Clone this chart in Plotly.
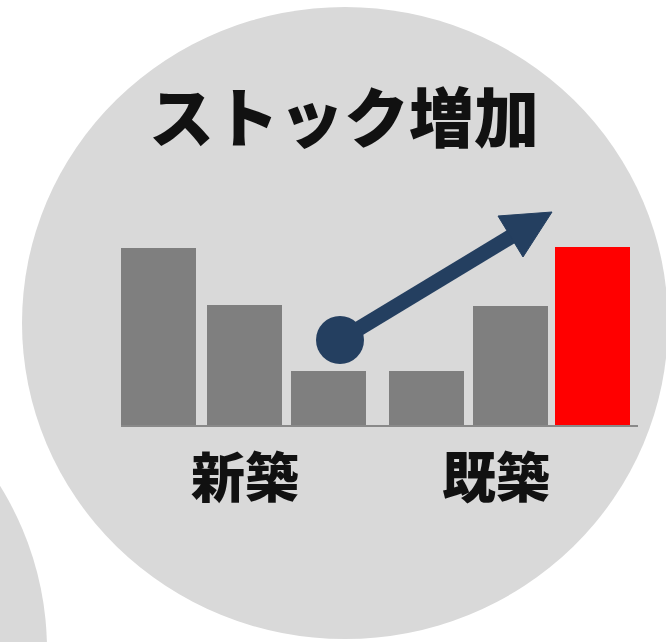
import plotly.graph_objects as go

# Stock growth illustration: new builds shrinking, existing stock rising
categories = ["新築1", "新築2", "新築3", "既築1", "既築2", "既築3"]
values = [178, 121, 55, 55, 120, 179]
group_labels = ["新築", "既築"]
title_text = "ストック増加"

# layout helpers (pixel-scaled axes so circles stay round)
W, H = 666, 642
BASE = 426  # pixel row of the bar baseline
bar_slots = [158.5, 244.5, 328.5, 426.5, 510.5, 592.5]
bar_colors = ["#7F7F7F"] * 5 + ["#FF0000"]
label_slots = [244.5, 496]


def py(p):
    """pixel row -> y data value"""
    return BASE - p


fig = go.Figure()
fig.add_trace(go.Bar(
    x=bar_slots, y=values, width=75,
    marker=dict(color=bar_colors, line=dict(width=0)),
    hovertext=categories, showlegend=False,
))

navy = "#243F60"
shapes = [
    # background discs
    dict(type="circle", xref="x", yref="y", x0=22, x1=668, y0=py(7), y1=py(639),
         fillcolor="#D9D9D9", line=dict(width=0), layer="below"),
    dict(type="circle", xref="x", yref="y", x0=-599, x1=47, y0=py(334), y1=py(966),
         fillcolor="#D9D9D9", line=dict(width=0), layer="below"),
    # baseline
    dict(type="line", xref="x", yref="y", x0=121, x1=638, y0=py(426), y1=py(426),
         line=dict(color="#898989", width=2), layer="above"),
    # arrow shaft
    dict(type="line", xref="x", yref="y", x0=340, y0=py(340), x1=512, y1=py(236),
         line=dict(color=navy, width=15), layer="above"),
    # arrow head
    dict(type="path", xref="x", yref="y",
         path=f"M 552 {py(212)} L 498 {py(216)} L 523 {py(257)} Z",
         fillcolor=navy, line=dict(color=navy, width=1), layer="above"),
    # start dot
    dict(type="circle", xref="x", yref="y", x0=316, x1=364, y0=py(316), y1=py(364),
         fillcolor=navy, line=dict(width=0), layer="above"),
]

font_family = "Noto Sans CJK JP"
annotations = [
    dict(x=344, y=py(114), xref="x", yref="y", text=title_text, showarrow=False,
         font=dict(family=font_family, size=65, color="#111111", weight=900),
         xanchor="center", yanchor="middle"),
]
for lbl, xs in zip(group_labels, label_slots):
    annotations.append(dict(
        x=xs, y=py(474), xref="x", yref="y", text=lbl, showarrow=False,
        font=dict(family=font_family, size=54, color="#111111", weight=900),
        xanchor="center", yanchor="middle"))

fig.update_layout(
    width=W, height=H,
    margin=dict(l=0, r=0, t=0, b=0),
    paper_bgcolor="white", plot_bgcolor="white",
    xaxis=dict(range=[0, W], visible=False, fixedrange=True),
    yaxis=dict(range=[py(H), py(0)], visible=False, fixedrange=True),
    shapes=shapes, annotations=annotations,
    bargap=0,
)

fig.write_html("out.html", config={"displayModeBar": False})
